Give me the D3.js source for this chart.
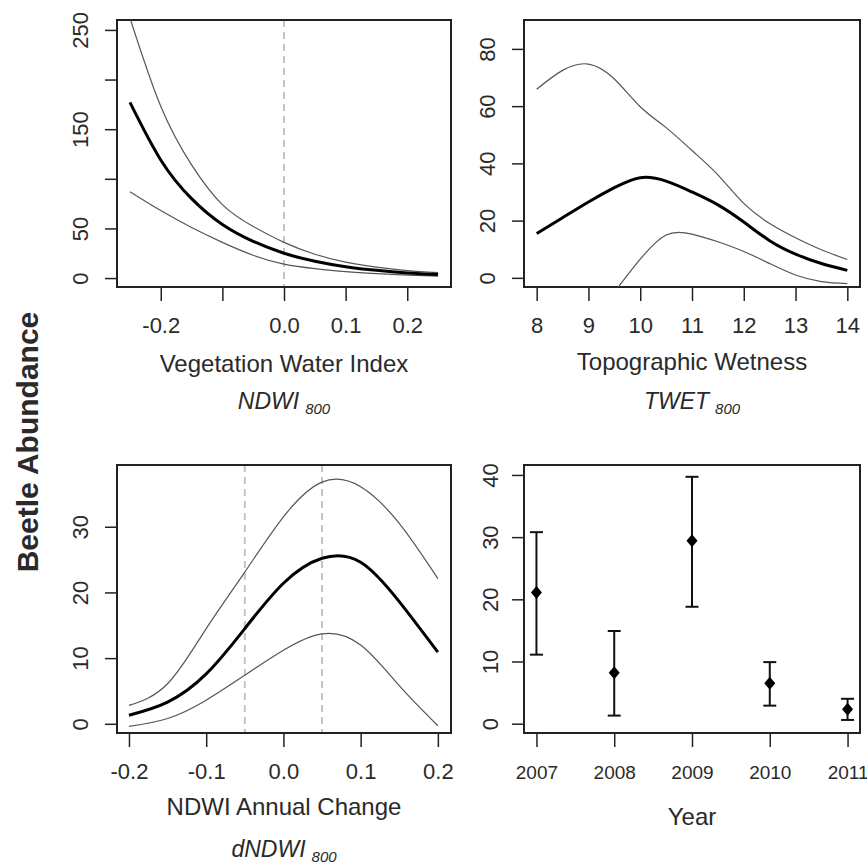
<!DOCTYPE html>
<html>
<head>
<meta charset="utf-8">
<script src="https://cdn.jsdelivr.net/npm/d3@7"></script>
<style>
  body { margin: 0; background: #fff; }
  text { font-family: Arial, "Liberation Sans", sans-serif; fill: #2a2a2a; }
</style>
</head>
<body>
<div id="chart"></div>
<script>
// NDWI 800 (vegetation water index)
const vwiX = [-0.25, -0.2, -0.15, -0.1, -0.05, 0, 0.05, 0.1, 0.15, 0.2, 0.25];
const vwiMean = [177, 119, 80, 54, 37, 25, 17, 11.5, 7.8, 5.2, 3.5];
const vwiUpper = [262, 173, 114, 74, 52, 36, 24, 16, 11, 7.5, 5.5];
const vwiLower = [87, 68, 51, 36, 23, 14, 9.5, 6.5, 4.5, 3, 2];

// TWET 800 (topographic wetness)
const twetX = [8, 8.5, 9, 9.5, 10, 10.5, 11, 11.5, 12, 12.5, 13, 13.5, 14];
const twetMean = [15.5, 21, 26.5, 31.5, 35, 33.8, 30, 25.5, 19.5, 13, 8.3, 5, 2.6];
const twetUpper = [65.9, 72.5, 74.7, 69.5, 59.8, 52.5, 44.5, 36, 26, 19, 14, 9.8, 6.4];
const twetLowerX = [9.5, 10, 10.5, 11, 11.5, 12, 12.5, 13, 13.5, 14];
const twetLower = [-5, 6.5, 15, 15.3, 12.6, 9.2, 5, 1, -1.3, -2.0];

// dNDWI 800 (annual change)
const dX = [-0.2, -0.15, -0.1, -0.05, 0, 0.05, 0.1, 0.15, 0.2];
const dMean = [1.3, 3.3, 7.6, 14.5, 21.4, 25.2, 24.6, 18.6, 10.9];
const dUpper = [2.8, 6.1, 14.5, 23.1, 31.5, 36.8, 36.1, 30.5, 22.1];
const dLower = [-0.4, 0.8, 3.6, 7.4, 11.2, 13.7, 12.0, 5.8, -0.3];

// year effects
const years = [2007, 2008, 2009, 2010, 2011];
const yearMean = [21.1, 8.2, 29.4, 6.5, 2.3];
const yearLow = [11.1, 1.3, 18.8, 2.9, 0.6];
const yearHigh = [30.8, 14.9, 39.7, 9.9, 4.0];

// ticks
const vwiTicks = [-0.2, -0.1, 0, 0.1, 0.2];
const vwiTickLabels = ["-0.2", "", "0.0", "0.1", "0.2"];
const vwiYTicks = [0, 50, 100, 150, 200, 250];
const vwiYLabels = ["0", "50", "", "150", "", "250"];
const twetTicks = [8, 9, 10, 11, 12, 13, 14];
const twetTickLabels = ["8", "9", "10", "11", "12", "13", "14"];
const twetYTicks = [0, 20, 40, 60, 80];
const dTicks = [-0.2, -0.1, 0, 0.1, 0.2];
const dTickLabels = ["-0.2", "-0.1", "0.0", "0.1", "0.2"];
const dYTicks = [0, 10, 20, 30];
const yearYTicks = [0, 10, 20, 30, 40];

const svg = d3.select("#chart")
    .append("svg")
    .attr("width", 867)
    .attr("height", 867);

let clipN = 0;

function panel(box, xDomain, yDomain) {
    const g = svg.append("g").attr("transform", `translate(${box.x},${box.y})`);
    const x = d3.scaleLinear().domain(xDomain).range([0, box.w]);
    const y = d3.scaleLinear().domain(yDomain).range([box.h, 0]);
    const id = "clip" + (clipN++);
    g.append("clipPath").attr("id", id)
        .append("rect").attr("width", box.w).attr("height", box.h);
    return { g, x, y, box, clip: `url(#${id})` };
}

function axes(p, xt, xl, yt, yl, opt) {
    const gx = p.g.append("g")
        .attr("transform", `translate(0,${p.box.h})`)
        .call(d3.axisBottom(p.x).tickValues(xt).tickSize(14).tickSizeOuter(0)
            .tickFormat((d, i) => xl[i]));
    gx.select(".domain").remove();
    gx.selectAll("line").attr("stroke", "#222").attr("stroke-width", 1.5);
    gx.selectAll("text")
        .attr("y", 46).attr("dy", null)
        .style("font-size", (opt.xFont || 22) + "px");

    const gy = p.g.append("g")
        .call(d3.axisLeft(p.y).tickValues(yt).tickSize(12).tickSizeOuter(0)
            .tickFormat((d, i) => yl[i]));
    gy.select(".domain").remove();
    gy.selectAll("line").attr("stroke", "#222").attr("stroke-width", 1.5);
    gy.selectAll("text")
        .attr("transform", "rotate(-90)")
        .attr("x", 0).attr("y", opt.yOff || -29).attr("dy", null)
        .attr("text-anchor", "middle")
        .style("font-size", "22px");

    p.g.append("rect")
        .attr("width", p.box.w).attr("height", p.box.h)
        .attr("fill", "none").attr("stroke", "#222").attr("stroke-width", 2);

    p.g.append("text")
        .attr("x", p.box.w / 2).attr("y", p.box.h + opt.titleDy)
        .attr("text-anchor", "middle")
        .style("font-size", "24px")
        .text(opt.title);

    if (opt.sub) {
        const t = p.g.append("text")
            .attr("x", p.box.w / 2).attr("y", p.box.h + opt.subDy)
            .attr("text-anchor", "middle")
            .style("font-size", "23px")
            .style("font-style", "italic");
        t.append("tspan").text(opt.sub);
        t.append("tspan").attr("dx", 6).attr("dy", 5)
            .style("font-size", "15px").text("800");
    }
}

function curve(p, xs, ys, width, color) {
    const line = d3.line()
        .x(d => p.x(d[0]))
        .y(d => p.y(d[1]))
        .curve(d3.curveNatural);
    p.g.append("path")
        .datum(d3.zip(xs, ys))
        .attr("clip-path", p.clip)
        .attr("d", line)
        .attr("fill", "none")
        .attr("stroke", color)
        .attr("stroke-width", width);
}

function dashed(p, v) {
    p.g.append("line")
        .attr("x1", p.x(v)).attr("x2", p.x(v))
        .attr("y1", 0).attr("y2", p.box.h)
        .attr("stroke", "#c4c4c4").attr("stroke-width", 2)
        .attr("stroke-dasharray", "7,5");
}

// top left: NDWI
const p1 = panel({ x: 117, y: 20, w: 334, h: 267 }, [-0.271, 0.271], [-9, 260]);
dashed(p1, 0);
axes(p1, vwiTicks, vwiTickLabels, vwiYTicks, vwiYLabels,
    { title: "Vegetation Water Index", sub: "NDWI", titleDy: 85, subDy: 122 });
curve(p1, vwiX, vwiUpper, 1.2, "#555");
curve(p1, vwiX, vwiLower, 1.2, "#555");
curve(p1, vwiX, vwiMean, 3, "#000");

// top right: TWET
const p2 = panel({ x: 524, y: 20, w: 336, h: 267 }, [7.755, 14.245], [-3.2, 90.1]);
axes(p2, twetTicks, twetTickLabels, twetYTicks, twetYTicks.map(String),
    { title: "Topographic Wetness", sub: "TWET", titleDy: 83, subDy: 122 });
curve(p2, twetX, twetUpper, 1.2, "#555");
curve(p2, twetLowerX, twetLower, 1.2, "#555");
curve(p2, twetX, twetMean, 3, "#000");

// bottom left: dNDWI
const p3 = panel({ x: 117, y: 465, w: 334, h: 268 }, [-0.2155, 0.217], [-1.4, 39.4]);
dashed(p3, -0.05);
dashed(p3, 0.05);
axes(p3, dTicks, dTickLabels, dYTicks, dYTicks.map(String),
    { title: "NDWI Annual Change", sub: "dNDWI", titleDy: 82, subDy: 124 });
curve(p3, dX, dUpper, 1.2, "#555");
curve(p3, dX, dLower, 1.2, "#555");
curve(p3, dX, dMean, 3, "#000");

// bottom right: year
const p4 = panel({ x: 524, y: 465, w: 336, h: 268 }, [2006.84, 2011.16], [-1.5, 41.6]);
axes(p4, years, years.map(String), yearYTicks, yearYTicks.map(String),
    { title: "Year", titleDy: 92, xFont: 19, yOff: -26 });

const bars = p4.g.append("g");
years.forEach((yr, i) => {
    const cx = p4.x(yr);
    bars.append("line")
        .attr("x1", cx).attr("x2", cx)
        .attr("y1", p4.y(yearLow[i])).attr("y2", p4.y(yearHigh[i]))
        .attr("stroke", "#111").attr("stroke-width", 2);
    [yearLow[i], yearHigh[i]].forEach(v => {
        bars.append("line")
            .attr("x1", cx - 6.5).attr("x2", cx + 6.5)
            .attr("y1", p4.y(v)).attr("y2", p4.y(v))
            .attr("stroke", "#111").attr("stroke-width", 2);
    });
    bars.append("path")
        .attr("transform", `translate(${cx},${p4.y(yearMean[i])})`)
        .attr("d", "M0,-6.5L5.5,0L0,6.5L-5.5,0Z")
        .attr("fill", "#000");
});

// shared y title
svg.append("text")
    .attr("transform", "translate(38,442) rotate(-90)")
    .attr("text-anchor", "middle")
    .style("font-size", "30px")
    .style("font-weight", "bold")
    .text("Beetle Abundance");
</script>
</body>
</html>
